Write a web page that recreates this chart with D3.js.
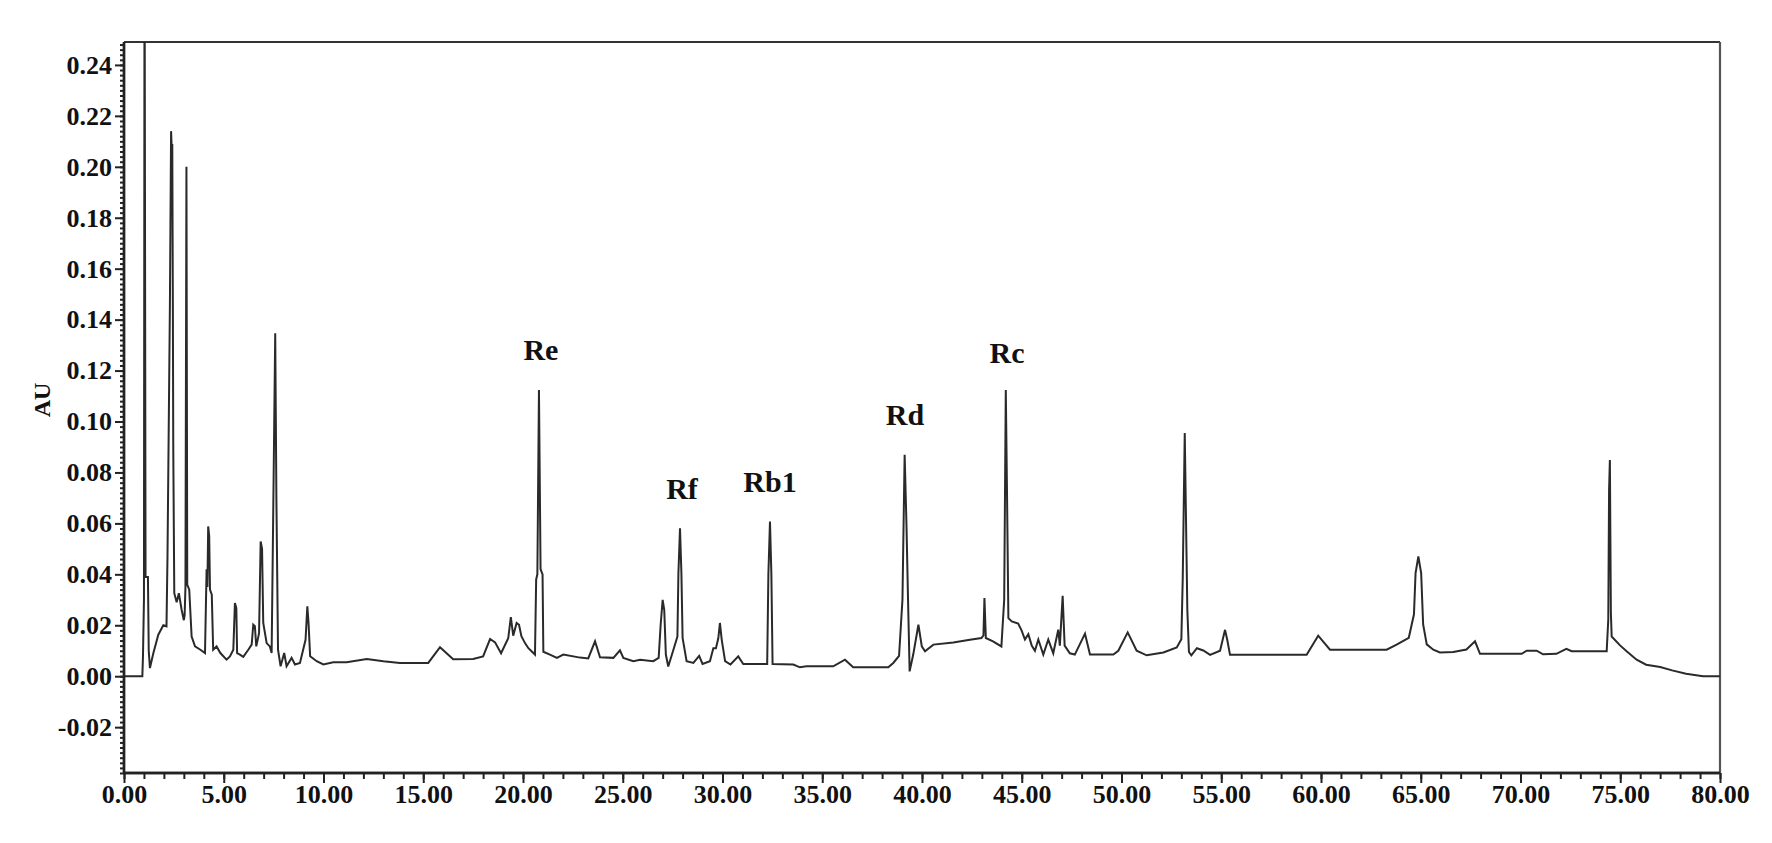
<!DOCTYPE html>
<html>
<head>
<meta charset="utf-8">
<script src="https://cdn.jsdelivr.net/npm/d3@7"></script>
<style>
  html, body { margin: 0; padding: 0; background: #ffffff; }
  svg { display: block; }
  .lab { font-family: "Liberation Serif", "Times New Roman", serif; font-weight: bold; fill: #111; }
</style>
</head>
<body>
<svg id="chart" width="1772" height="843"></svg>
<script>
// ---------------- data ----------------
const retentionTime = [
  0, 0.92, 0.95, 1.0, 1.03, 1.08, 1.2, 1.24, 1.3, 1.47, 1.72, 1.97, 2.13, 2.18, 2.3, 2.36, 2.4, 2.42, 2.45, 2.47,
  2.52, 2.64, 2.75, 2.89, 3.0, 3.04, 3.08, 3.13, 3.17, 3.27, 3.39, 3.56, 3.83, 4.06, 4.14, 4.18, 4.22, 4.27, 4.31, 4.4,
  4.47, 4.64, 4.83, 5.14, 5.31, 5.48, 5.56, 5.63, 5.67, 5.81, 5.98, 6.23, 6.4, 6.48, 6.56, 6.63, 6.77, 6.85, 6.92, 6.98,
  7.15, 7.31, 7.4, 7.5, 7.58, 7.64, 7.72, 7.85, 8.03, 8.15, 8.4, 8.57, 8.82, 9.1, 9.19, 9.25, 9.33, 9.66, 9.99, 10.49,
  11.16, 12.17, 13.0, 13.83, 15.25, 15.84, 16.5, 17.5, 18.0, 18.35, 18.6, 18.9, 19.26, 19.39, 19.51, 19.68, 19.8, 19.92, 20.1, 20.27,
  20.43, 20.6, 20.66, 20.72, 20.8, 20.88, 20.98, 21.02, 21.35, 21.7, 22.02, 22.86, 23.27, 23.61, 23.86, 24.53, 24.86, 25.03, 25.53, 25.87,
  26.53, 26.8, 26.9, 27.0, 27.08, 27.16, 27.28, 27.54, 27.74, 27.79, 27.87, 27.94, 28.0, 28.2, 28.54, 28.83, 29.0, 29.37, 29.54, 29.67,
  29.79, 29.87, 29.96, 30.13, 30.4, 30.79, 31.04, 32.24, 32.3, 32.38, 32.45, 32.51, 33.55, 33.88, 34.21, 35.55, 36.14, 36.55, 38.31, 38.56,
  38.85, 39.02, 39.13, 39.22, 39.3, 39.38, 39.56, 39.82, 39.99, 40.15, 40.57, 41.57, 42.4, 42.98, 43.08, 43.13, 43.2, 43.56, 43.98, 44.12,
  44.2, 44.27, 44.33, 44.5, 44.82, 44.99, 45.16, 45.33, 45.5, 45.66, 45.83, 46.08, 46.33, 46.58, 46.83, 46.91, 47.05, 47.15, 47.41, 47.66,
  48.17, 48.42, 49.59, 49.84, 50.31, 50.76, 51.26, 52.1, 52.77, 53.0, 53.07, 53.17, 53.3, 53.38, 53.5, 53.78, 54.1, 54.44, 54.94, 55.19,
  55.3, 55.44, 59.28, 59.86, 60.45, 61.54, 63.29, 63.79, 64.4, 64.66, 64.74, 64.88, 65.02, 65.12, 65.3, 65.63, 65.96, 66.63, 67.29, 67.72,
  67.97, 70.06, 70.31, 70.81, 71.13, 71.8, 72.3, 72.56, 74.32, 74.4, 74.44, 74.48, 74.53, 74.57, 74.99, 75.32, 75.82, 76.3, 77.0, 77.6,
  78.3, 79.15, 80
];
const absorbance = [
  0, 0, 0.0075, 0.03, 0.30, 0.039, 0.039, 0.01, 0.0032, 0.009, 0.0163, 0.020, 0.0196, 0.047, 0.145, 0.214, 0.205, 0.209, 0.143, 0.089,
  0.0326, 0.029, 0.0326, 0.026, 0.022, 0.024, 0.035, 0.200, 0.036, 0.034, 0.0156, 0.0117, 0.0104, 0.0091, 0.042, 0.035, 0.0588, 0.055, 0.034, 0.032,
  0.0104, 0.0117, 0.0091, 0.0065, 0.0078, 0.0104, 0.0287, 0.0267, 0.0091, 0.0085, 0.0076, 0.0104, 0.0124, 0.0202, 0.0196, 0.0117, 0.0169, 0.0529, 0.050, 0.0209,
  0.013, 0.0117, 0.0091, 0.078, 0.1346, 0.069, 0.0104, 0.0039, 0.0091, 0.0039, 0.0072, 0.0046, 0.0052, 0.0143, 0.0274, 0.0209, 0.0078, 0.0059, 0.0046, 0.0055,
  0.0055, 0.0068, 0.0059, 0.0052, 0.0052, 0.0114, 0.0067, 0.0068, 0.0078, 0.0146, 0.0133, 0.009, 0.0149, 0.0232, 0.0159, 0.0209, 0.0202, 0.0157, 0.013, 0.011,
  0.0098, 0.0085, 0.038, 0.040, 0.1124, 0.042, 0.040, 0.0096, 0.0085, 0.0072, 0.0085, 0.0073, 0.007, 0.0137, 0.0074, 0.0072, 0.0102, 0.0072, 0.0059, 0.0065,
  0.0059, 0.0072, 0.0202, 0.030, 0.0261, 0.0085, 0.0038, 0.0104, 0.0156, 0.0405, 0.0581, 0.0405, 0.015, 0.0059, 0.0052, 0.008, 0.0048, 0.0059, 0.011, 0.011,
  0.0149, 0.0209, 0.0144, 0.0059, 0.0046, 0.0078, 0.0048, 0.0048, 0.040, 0.0607, 0.040, 0.0048, 0.0046, 0.0035, 0.0039, 0.0039, 0.0065, 0.0035, 0.0035, 0.0052,
  0.008, 0.030, 0.0869, 0.060, 0.030, 0.0019, 0.0085, 0.0202, 0.0117, 0.0098, 0.0124, 0.0132, 0.0143, 0.015, 0.016, 0.0307, 0.015, 0.0137, 0.0117, 0.030,
  0.1124, 0.066, 0.0228, 0.0215, 0.0207, 0.018, 0.0144, 0.0165, 0.012, 0.010, 0.0144, 0.0085, 0.0144, 0.009, 0.0183, 0.012, 0.0316, 0.012, 0.009, 0.0085,
  0.0167, 0.0085, 0.0085, 0.010, 0.0172, 0.010, 0.0082, 0.0093, 0.0113, 0.0145, 0.0385, 0.0955, 0.026, 0.0095, 0.0082, 0.011, 0.0101, 0.0084, 0.010, 0.0182,
  0.0143, 0.0084, 0.0084, 0.0159, 0.0104, 0.0104, 0.0104, 0.0124, 0.0151, 0.0243, 0.0405, 0.047, 0.0405, 0.0203, 0.0125, 0.0104, 0.0093, 0.0095, 0.0105, 0.0137,
  0.0088, 0.0088, 0.010, 0.010, 0.0086, 0.0088, 0.0107, 0.0098, 0.0098, 0.0222, 0.073, 0.0849, 0.025, 0.0156, 0.0121, 0.0098, 0.0065, 0.0045, 0.0036, 0.0023,
  0.001, 0.0, 0.0
];

// peak annotations: name and the (time, AU) point where the label sits
const peakNames  = ["Re", "Rf", "Rb1", "Rd", "Rc"];
const peakLabelT = [20.9, 27.97, 32.38, 39.15, 44.26];
const peakLabelV = [0.124, 0.0695, 0.0725, 0.0985, 0.123];

// axis ticks
const xMajorTicks = d3.range(0, 81, 5);
const xMinorTicks = d3.range(0, 81, 1);
const yMajorTicks = [-0.02, 0, 0.02, 0.04, 0.06, 0.08, 0.10, 0.12, 0.14, 0.16, 0.18, 0.20, 0.22, 0.24];
const yMinorTicks = d3.range(-0.038, 0.2485, 0.002).map(v => Math.round(v * 1000) / 1000);
const xDomain = [0, 80];
const yDomain = [-0.038, 0.249];
const yTitle = "AU";

// ---------------- layout ----------------
const svg = d3.select("#chart");
const mLeft = 124, mRight = 1720, mTop = 42, mBottom = 773;
const x = d3.scaleLinear().domain(xDomain).range([mLeft, mRight]);
const y = d3.scaleLinear().domain(yDomain).range([mBottom, mTop]);
const ink = "#222";
const fontFam = '"Liberation Serif", "Times New Roman", serif';

// clip
svg.append("defs").append("clipPath").attr("id", "plotclip")
  .append("rect").attr("x", mLeft).attr("y", mTop).attr("width", mRight - mLeft).attr("height", mBottom - mTop);

// frame: top and right
svg.append("line").attr("x1", mLeft).attr("x2", mRight).attr("y1", mTop).attr("y2", mTop)
  .attr("stroke", "#333").attr("stroke-width", 2.2);
svg.append("line").attr("x1", mRight).attr("x2", mRight).attr("y1", mTop).attr("y2", mBottom)
  .attr("stroke", "#555").attr("stroke-width", 2.2);

// chromatogram trace
const pts = retentionTime.map((t, i) => [t, absorbance[i]]);
const line = d3.line().x(d => x(d[0])).y(d => y(d[1]));
svg.append("path").datum(pts)
  .attr("clip-path", "url(#plotclip)")
  .attr("d", line)
  .attr("fill", "none")
  .attr("stroke", "#2a2a2a")
  .attr("stroke-width", 2)
  .attr("stroke-linejoin", "miter");

// y axis
const yMinor = svg.append("g").attr("transform", `translate(${mLeft},0)`)
  .call(d3.axisLeft(y).tickValues(yMinorTicks).tickSize(4).tickFormat(""));
const yMajor = svg.append("g").attr("transform", `translate(${mLeft},0)`)
  .call(d3.axisLeft(y).tickValues(yMajorTicks).tickSize(9).tickPadding(3).tickFormat(d => d.toFixed(2)));

// x axis
const xMinor = svg.append("g").attr("transform", `translate(0,${mBottom})`)
  .call(d3.axisBottom(x).tickValues(xMinorTicks).tickSize(6).tickFormat(""));
const xMajor = svg.append("g").attr("transform", `translate(0,${mBottom})`)
  .call(d3.axisBottom(x).tickValues(xMajorTicks).tickSize(10).tickPadding(2).tickFormat(d => d.toFixed(2)));

[yMinor, yMajor, xMinor, xMajor].forEach(g => {
  g.select(".domain").attr("stroke", ink).attr("stroke-width", 2.4);
  g.selectAll(".tick line").attr("stroke", ink).attr("stroke-width", 2);
  g.selectAll(".tick text").attr("fill", "#111")
    .style("font-family", fontFam).style("font-weight", "bold").style("font-size", "26px");
});
[yMinor, yMajor].forEach(g => g.select(".domain").attr("d", `M0,${mTop}V${mBottom}`));
[xMinor, xMajor].forEach(g => g.select(".domain").attr("d", `M${mLeft},0H${mRight}`));

// y title
svg.append("text").attr("class", "lab")
  .attr("transform", `translate(50,400) rotate(-90)`)
  .attr("text-anchor", "middle")
  .style("font-size", "24px")
  .text(yTitle);

// peak labels
svg.append("g").selectAll("text").data(peakNames).join("text")
  .attr("class", "lab")
  .attr("x", (d, i) => x(peakLabelT[i]))
  .attr("y", (d, i) => y(peakLabelV[i]))
  .attr("text-anchor", "middle")
  .style("font-size", "30px")
  .text(d => d);
</script>
</body>
</html>
